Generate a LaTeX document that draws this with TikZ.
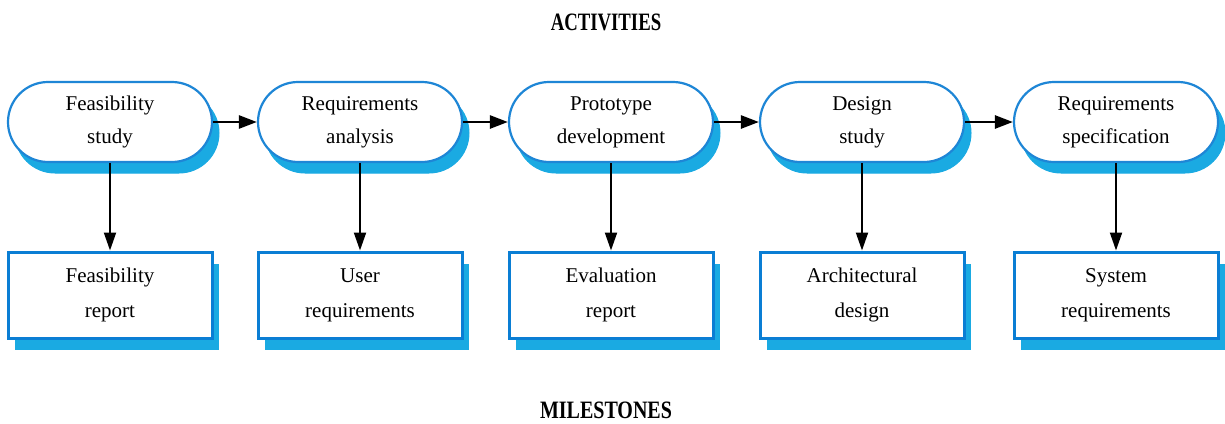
\documentclass[tikz,border=0pt]{standalone}
\usepackage{fontspec}
\setmainfont{Liberation Serif}
\usetikzlibrary{shapes.misc,shadows,arrows.meta}
\definecolor{edgeblue}{HTML}{1E86D6}
\definecolor{boxblue}{HTML}{0A7ED4}
\definecolor{shadowblue}{HTML}{1AAAE2}
\tikzset{
  activity/.style={rounded rectangle, draw=edgeblue, line width=2.2pt, fill=white,
    minimum width=204pt, minimum height=80pt, align=center, inner sep=0pt,
    font=\fontsize{21}{33}\selectfont,
    copy shadow={shadow xshift=7pt, shadow yshift=-11pt, fill=shadowblue, draw=shadowblue, line width=1pt}},
  milestone/.style={rectangle, draw=boxblue, line width=3pt, fill=white,
    minimum width=204pt, minimum height=86pt, align=center, inner sep=0pt,
    font=\fontsize{21}{35}\selectfont,
    copy shadow={shadow xshift=7pt, shadow yshift=-12pt, fill=shadowblue, draw=none}},
  flow/.style={line width=2.6pt, -{Triangle[length=18pt,width=13pt]}, black},
  down/.style={line width=2pt, -{Triangle[length=18pt,width=12pt]}, black},
  heading/.style={inner sep=0pt, font=\fontsize{25}{25}\selectfont\bfseries}
}
\begin{document}
\begin{tikzpicture}[x=1pt,y=-1pt]
\useasboundingbox (0,0) rectangle (1225,423);
\node[heading] (act) at (606,22) {\scalebox{0.75}[1]{ACTIVITIES}};
\node[heading] (mil) at (606,410) {\scalebox{0.8}[1]{MILESTONES}};

\node[activity] (a1) at (110,122) {Feasibility\\study};
\node[activity] (a2) at (360,122) {Requirements\\analysis};
\node[activity] (a3) at (611,122) {Prototype\\development};
\node[activity] (a4) at (862,122) {Design\\study};
\node[activity] (a5) at (1116,122) {Requirements\\specification};

\node[milestone] (m1) at (110,295) {Feasibility\\report};
\node[milestone] (m2) at (360,295) {User\\requirements};
\node[milestone] (m3) at (611,295) {Evaluation\\report};
\node[milestone] (m4) at (862,295) {Architectural\\design};
\node[milestone] (m5) at (1116,295) {System\\requirements};

\draw[flow] (a1.east) -- (a2.west);
\draw[flow] (a2.east) -- (a3.west);
\draw[flow] (a3.east) -- (a4.west);
\draw[flow] (a4.east) -- (a5.west);

\foreach \i in {1,...,5} {
  \draw[down] (a\i.south) -- (a\i.south |- m\i.north);
}
\end{tikzpicture}
\end{document}
